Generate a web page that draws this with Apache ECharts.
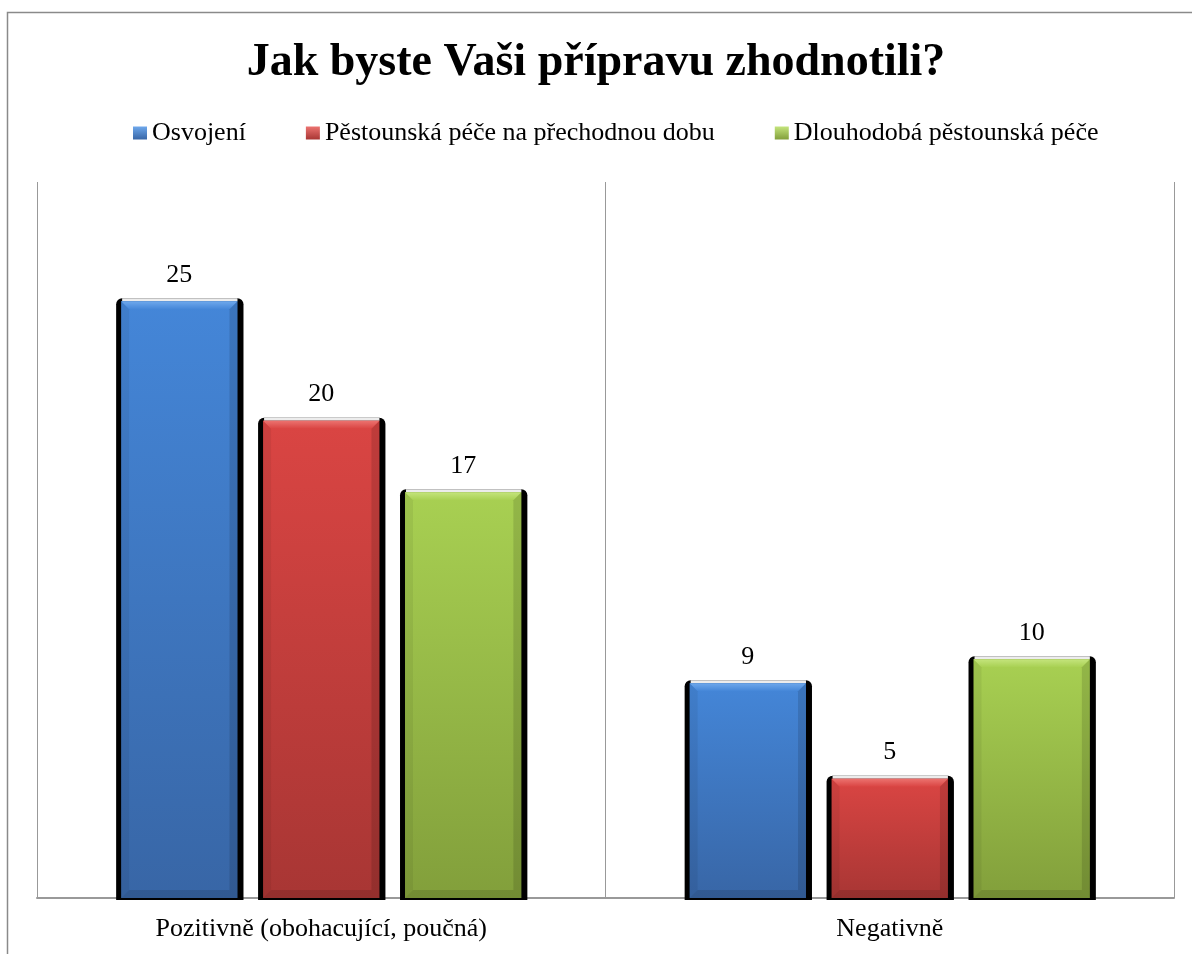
<!DOCTYPE html>
<html>
<head>
<meta charset="utf-8">
<script src="https://cdn.jsdelivr.net/npm/echarts@6/dist/echarts.min.js"></script>
<style>
  html, body { margin: 0; padding: 0; background: #fff; }
  #chart { width: 1192px; height: 954px; }
</style>
</head>
<body>
<div id="chart"></div>
<script>
const categories = ['Pozitivně (obohacující, poučná)', 'Negativně'];
const seriesNames = ['Osvojení', 'Pěstounská péče na přechodnou dobu', 'Dlouhodobá pěstounská péče'];
const osvojeni = [25, 9];
const prechodna = [20, 5];
const dlouhodoba = [17, 10];

const font = '"Liberation Serif", "Times New Roman", serif';

// top / bottom / bevel colours per series
const palette = [
  { top: '#4486d8', bottom: '#3866a6', bevel: '#6ea8ec' },
  { top: '#da4543', bottom: '#a83634', bevel: '#ec7370' },
  { top: '#a8d052', bottom: '#829f3b', bevel: '#c4e47c' }
];

const grad = (a, b) => new echarts.graphic.LinearGradient(0, 0, 0, 1, [
  { offset: 0, color: a }, { offset: 1, color: b }
]);

const renderBar = (params, api) => {
  const k = params.seriesIndex;
  const c = palette[k];
  const cat = api.value(0), val = api.value(1);
  const band = api.size([1, 0])[0];
  const bw = band * 0.704 / 3.44;
  const step = bw * 1.22;
  const base = api.coord([cat, 0]);
  const top = api.coord([cat, val]);
  const x = base[0] + (k - 1) * step - bw / 2;
  const y = top[1];
  const h = base[1] - top[1];
  const b = 8;
  return {
    type: 'group',
    children: [
      { type: 'rect', shape: { x: x - 5, y: y - 3, width: bw + 11, height: h + 5, r: [6, 6, 0, 0] }, style: { fill: '#000' } },
      { type: 'rect', shape: { x: x + 1, y: y - 3, width: bw - 1, height: 3 }, style: { fill: '#ececec' } },
      { type: 'rect', shape: { x: x, y: y, width: bw, height: h }, style: { fill: grad(c.top, c.bottom) } },
      { type: 'polygon', shape: { points: [[x, y], [x + bw, y], [x + bw - b, y + b], [x + b, y + b]] }, style: { fill: grad(c.bevel, c.top) } },
      { type: 'polygon', shape: { points: [[x, y], [x + b, y + b], [x + b, y + h - b], [x, y + h]] }, style: { fill: 'rgba(0,0,0,0.06)' } },
      { type: 'polygon', shape: { points: [[x + bw, y], [x + bw - b, y + b], [x + bw - b, y + h - b], [x + bw, y + h]] }, style: { fill: 'rgba(0,0,0,0.12)' } },
      { type: 'polygon', shape: { points: [[x, y + h], [x + b, y + h - b], [x + bw - b, y + h - b], [x + bw, y + h]] }, style: { fill: 'rgba(0,0,0,0.12)' } },
      { type: 'text', style: { text: String(val), x: x + bw / 2, y: y - 26, align: 'center', verticalAlign: 'middle', fontSize: 26, fontFamily: font, fill: '#000' } }
    ]
  };
};

const values = [osvojeni, prechodna, dlouhodoba];

const chart = echarts.init(document.getElementById('chart'));
chart.setOption({
  animation: false,
  title: {
    text: 'Jak byste Vaši přípravu zhodnotili?',
    left: 'center',
    top: 35,
    textStyle: { fontFamily: font, fontSize: 46, fontWeight: 'bold', color: '#000' }
  },
  legend: {
    data: seriesNames,
    left: 133,
    top: 120,
    padding: 0,
    itemGap: 60,
    itemWidth: 14,
    itemHeight: 13,
    icon: 'rect',
    textStyle: { fontFamily: font, fontSize: 26, color: '#000' }
  },
  graphic: [{
    type: 'rect',
    shape: { x: 7.5, y: 12.5, width: 1300, height: 1000 },
    style: { fill: 'none', stroke: '#8a8a8a', lineWidth: 1.5 },
    silent: true
  }],
  grid: { left: 37, right: 18, top: 182, bottom: 56 },
  xAxis: {
    type: 'category',
    data: categories,
    axisLine: { lineStyle: { color: '#999', width: 2 } },
    axisTick: { show: false },
    splitLine: { show: true, lineStyle: { color: '#999', width: 1 } },
    axisLabel: { fontFamily: font, fontSize: 26, color: '#000', margin: 18 }
  },
  yAxis: { type: 'value', min: 0, max: 30, show: false },
  series: seriesNames.map((name, i) => ({
    name,
    type: 'custom',
    renderItem: renderBar,
    itemStyle: { color: grad(palette[i].bevel, palette[i].bottom) },
    encode: { x: 0, y: 1 },
    data: categories.map((c, j) => [j, values[i][j]])
  }))
});
</script>
</body>
</html>
